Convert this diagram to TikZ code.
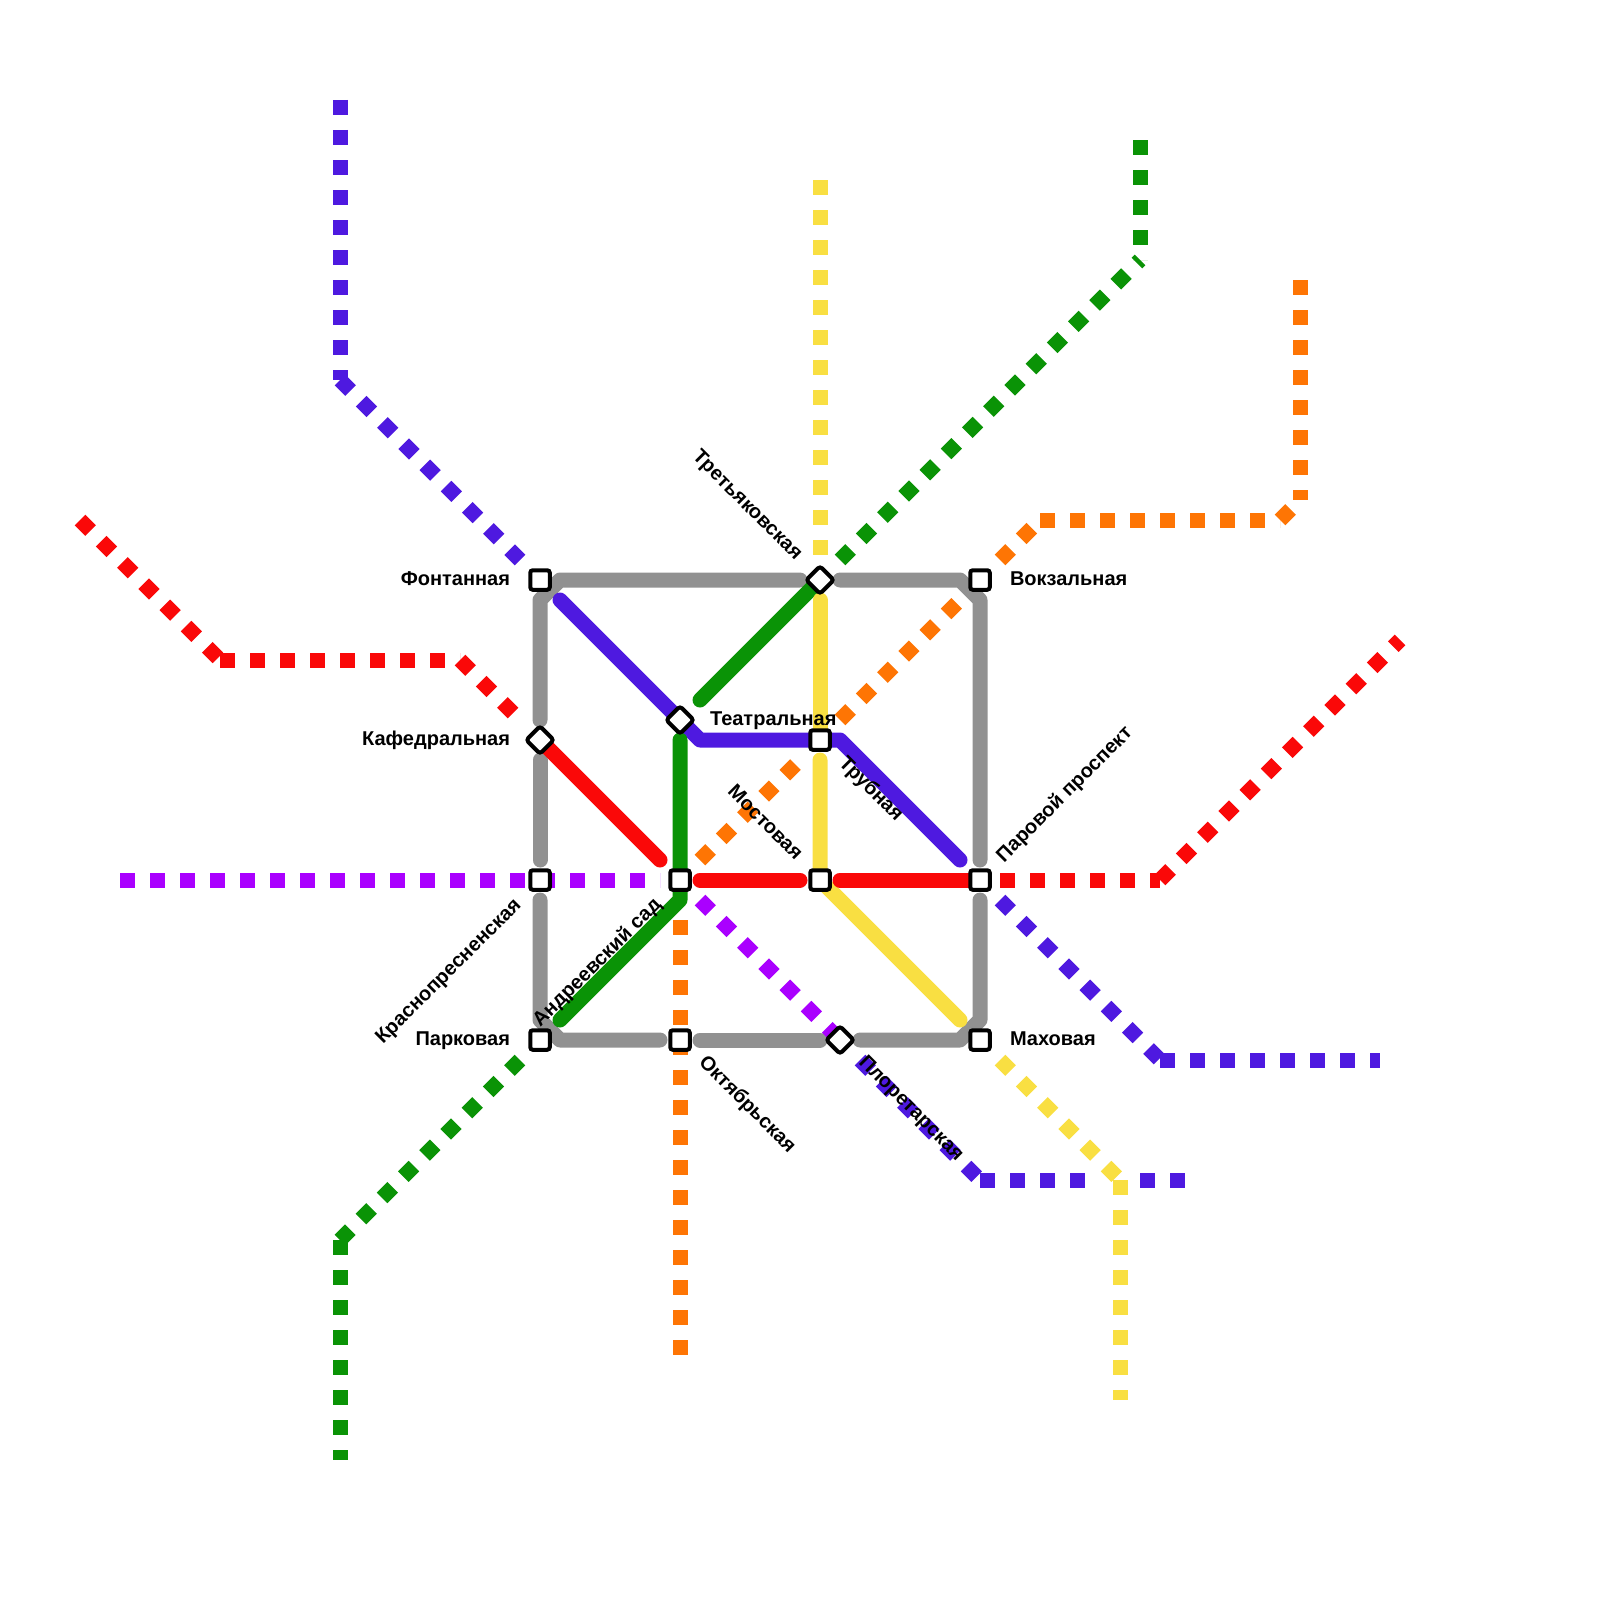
\documentclass[tikz,border=0pt]{standalone}
\usepackage{fontspec}
\setmainfont{Liberation Sans}
\definecolor{cgray}{HTML}{919191}
\definecolor{cred}{HTML}{FA0808}
\definecolor{cblue}{HTML}{4E19E0}
\definecolor{cgreen}{HTML}{0A9306}
\definecolor{cyellow}{HTML}{F9DF42}
\definecolor{corange}{HTML}{FE7504}
\definecolor{cviolet}{HTML}{AA00FF}
\tikzset{
  solidline/.style={line width=15pt,line cap=round,line join=round},
  dashline/.style={line width=15pt,dash pattern=on 15pt off 15pt},
  sqstation/.style={draw=black,fill=white,line width=4pt,rectangle,rounded corners=2.5pt,minimum size=19.5pt,inner sep=0pt},
  dmstation/.style={sqstation,rotate=45,rounded corners=3pt},
  lbl/.style={font=\bfseries\fontsize{20pt}{22pt}\selectfont,text=black,inner sep=0pt,outer sep=0pt},
}
\begin{document}
\begin{tikzpicture}[x=1pt,y=-1pt]
\useasboundingbox (0,0) rectangle (1600,1600);
% gray
\coordinate (g1) at (800,580); \coordinate (g2) at (560,580); \coordinate (g3) at (540,600); \coordinate (g4) at (540,720);
\coordinate (g5) at (840,580); \coordinate (g6) at (960,580); \coordinate (g7) at (980,600); \coordinate (g8) at (980,860);
\coordinate (g9) at (540,760); \coordinate (g10) at (540,860);
\coordinate (g11) at (540,900); \coordinate (g12) at (540,1020); \coordinate (g13) at (560,1040); \coordinate (g14) at (660,1040);
\coordinate (g15) at (700,1040); \coordinate (g16) at (820,1040);
\coordinate (g17) at (860,1040); \coordinate (g18) at (960,1040); \coordinate (g19) at (980,1020); \coordinate (g20) at (980,900);
\draw[solidline,cgray] (g1)--(g2)--(g3)--(g4);
\draw[solidline,cgray] (g5)--(g6)--(g7)--(g8);
\draw[solidline,cgray] (g9)--(g10);
\draw[solidline,cgray] (g11)--(g12)--(g13)--(g14);
\draw[solidline,cgray] (g15)--(g16);
\draw[solidline,cgray] (g17)--(g18)--(g19)--(g20);
% violet
\coordinate (v1) at (120,880); \coordinate (v2) at (660,880); \coordinate (v3) at (700,900); \coordinate (v4) at (840,1040);
\draw[dashline,cviolet] (v1)--(v2);
\draw[dashline,cviolet] (v3)--(v4);
% orange
\coordinate (o1) at (700,860); \coordinate (o2) at (800,760); \coordinate (o3) at (840,720); \coordinate (o4) at (960,600);
\coordinate (o5) at (1000,560); \coordinate (o6) at (1040,520); \coordinate (o7) at (1280,520); \coordinate (o8) at (1300,500); \coordinate (o9) at (1300,280);
\coordinate (o10) at (680,920); \coordinate (o11) at (680,1360);
\draw[dashline,corange] (o1)--(o2);
\draw[dashline,corange] (o3)--(o4);
\draw[dashline,corange] (o5)--(o6);
\draw[dashline,corange] (o6)--(o7);
\draw[dashline,corange] (o7)--(o8);
\draw[dashline,corange] (o9)--(o8);
\draw[dashline,corange] (o10)--(o11);
% blue
\coordinate (b1) at (560,600); \coordinate (b2) at (700,740); \coordinate (b3) at (840,740); \coordinate (b4) at (960,860);
\draw[solidline,cblue] (b1)--(b2)--(b3)--(b4);
\coordinate (b5) at (340,100); \coordinate (b6) at (340,380); \coordinate (b7) at (520,560);
\draw[dashline,cblue] (b5)--(b6);
\draw[dashline,cblue] (b6)--(b7);
\coordinate (b8) at (1000,900); \coordinate (b9) at (1160,1060); \coordinate (b10) at (1380,1060);
\draw[dashline,cblue] (b8)--(b9);
\draw[dashline,cblue] (b9)--(b10);
\coordinate (b11) at (860,1060); \coordinate (b12) at (980,1180); \coordinate (b13) at (1090,1180); \coordinate (b14) at (1140,1180); \coordinate (b15) at (1185,1180);
\draw[dashline,cblue] (b11)--(b12);
\draw[dashline,cblue] (b12)--(b13);
\draw[dashline,cblue] (b14)--(b15);
% green
\coordinate (n1) at (700,700); \coordinate (n2) at (820,580);
\draw[solidline,cgreen] (n1)--(n2);
\coordinate (n3) at (680,740); \coordinate (n4) at (680,900); \coordinate (n5) at (560,1020);
\draw[solidline,cgreen] (n3)--(n4)--(n5);
\coordinate (n6) at (840,560); \coordinate (n7) at (1140,260); \coordinate (n8) at (1140,140);
\draw[dashline,cgreen] (n6)--(n7);
\draw[dashline,cgreen] (n8)--(n7);
\coordinate (n9) at (520,1060); \coordinate (n10) at (340,1240); \coordinate (n11) at (340,1460);
\draw[dashline,cgreen] (n9)--(n10);
\draw[dashline,cgreen] (n10)--(n11);
% yellow
\coordinate (y1) at (820,600); \coordinate (y2) at (820,740);
\draw[solidline,cyellow] (y1)--(y2);
\coordinate (y3) at (820,760); \coordinate (y4) at (820,880); \coordinate (y5) at (960,1020);
\draw[solidline,cyellow] (y3)--(y4)--(y5);
\coordinate (y6) at (820,180); \coordinate (y7) at (820,560);
\draw[dashline,cyellow] (y6)--(y7);
\coordinate (y8) at (1000,1060); \coordinate (y9) at (1120,1180); \coordinate (y10) at (1120,1400);
\draw[dashline,cyellow] (y8)--(y9);
\draw[dashline,cyellow] (y9)--(y10);
% red
\coordinate (r1) at (540,740); \coordinate (r2) at (660,860);
\draw[solidline,cred] (r1)--(r2);
\coordinate (r3) at (700,880); \coordinate (r4) at (800,880);
\draw[solidline,cred] (r3)--(r4);
\coordinate (r5) at (840,880); \coordinate (r6) at (980,880);
\draw[solidline,cred] (r5)--(r6);
\coordinate (r7) at (80,520); \coordinate (r8) at (220,660); \coordinate (r9) at (460,660); \coordinate (r10) at (520,720);
\draw[dashline,cred] (r7)--(r8);
\draw[dashline,cred] (r8)--(r9);
\draw[dashline,cred] (r9)--(r10);
\coordinate (r11) at (1000,880); \coordinate (r12) at (1160,880); \coordinate (r13) at (1400,640);
\draw[dashline,cred] (r11)--(r12);
\draw[dashline,cred] (r12)--(r13);
% stations
\node[sqstation] (F) at (540,580) {};
\node[dmstation] (K) at (540,740) {};
\node[sqstation] (Kr) at (540,880) {};
\node[sqstation] (P) at (540,1040) {};
\node[sqstation] (O) at (680,1040) {};
\node[dmstation] (Pr) at (840,1040) {};
\node[sqstation] (M) at (980,1040) {};
\node[sqstation] (V) at (980,580) {};
\node[sqstation] (PP) at (980,880) {};
\node[dmstation] (Tr) at (820,580) {};
\node[sqstation] (Te) at (820,740) {};
\node[sqstation] (Mo) at (820,880) {};
\node[sqstation] (A) at (680,880) {};
\node[dmstation] (D) at (680,720) {};
% labels
\node[lbl,anchor=base east] (lF) at (510,585) {Фонтанная};
\node[lbl,anchor=base east] (lK) at (510,745) {Кафедральная};
\node[lbl,anchor=base east] (lP) at (510,1045) {Парковая};
\node[lbl,anchor=base west] (lV) at (1010,585) {Вокзальная};
\node[lbl,anchor=base west] (lM) at (1010,1045) {Маховая};
\node[lbl,anchor=base west] (lTe) at (710,725) {Театральная};
\node[lbl,anchor=base east,rotate=-45] (lTr) at (795,561) {Третьяковская};
\node[lbl,anchor=base east,rotate=-45] (lMo) at (795,861) {Мостовая};
\node[lbl,anchor=base east,rotate=45] (lA) at (662,906) {Андреевский сад};
\node[lbl,anchor=base east,rotate=45] (lKr) at (522,906) {Краснопресненская};
\node[lbl,anchor=base west,rotate=45] (lPP) at (1004,863) {Паровой проспект};
\node[lbl,anchor=base west,rotate=-45] (lT) at (838,764) {Трубная};
\node[lbl,anchor=base west,rotate=-45] (lO) at (698,1063) {Октябрьская};
\node[lbl,anchor=base west,rotate=-45] (lPr) at (858,1063) {Плоретарская};
\end{tikzpicture}
\end{document}
